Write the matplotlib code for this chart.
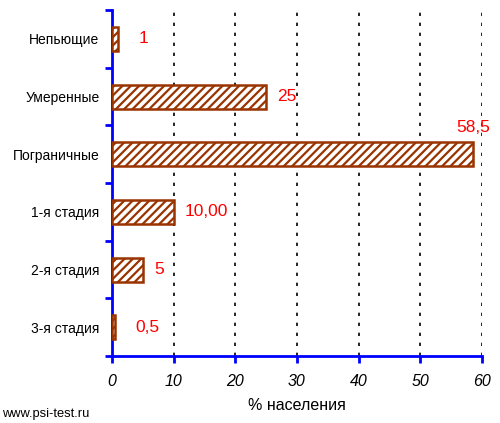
import matplotlib

matplotlib.use("Agg")
import matplotlib.pyplot as plt
import numpy as np

plt.rcParams["font.family"] = ["Liberation Sans", "DejaVu Sans"]
plt.rcParams["hatch.linewidth"] = 1.6
plt.rcParams["hatch.color"] = "#993300"

categories = ["Непьющие", "Умеренные", "Пограничные", "1-я стадия", "2-я стадия", "3-я стадия"]
values = [1, 25, 58.5, 10, 5, 0.5]
value_labels = ["1", "25", "58,5", "10,00", "5", "0,5"]
x_ticks = [0, 10, 20, 30, 40, 50, 60]

fig = plt.figure(figsize=(5, 4.23), dpi=100)
ax = fig.add_axes([0.224, 0.158, 0.74, 0.818])

y = np.arange(len(categories))
ax.barh(y, values, height=0.42, color="white", edgecolor="#993300",
        linewidth=1.8, hatch="////", zorder=3)

for i, (v, lab) in enumerate(zip(values, value_labels)):
    if v > 50:
        ax.text(v, i - 0.33, lab, color="red", fontsize=12.5, ha="center", va="bottom")
    elif v < 2:
        ax.text(v + 3.3, i, lab, color="red", fontsize=12.5, ha="left", va="center")
    else:
        ax.text(v + 1.8, i, lab, color="red", fontsize=12.5, ha="left", va="center")

ax.set_xlim(0, 60)
ax.set_ylim(len(categories) - 0.5, -0.5)
ax.set_xticks(x_ticks)
ax.set_xticklabels([str(t) for t in x_ticks], fontstyle="italic", fontsize=11.5)
ax.set_yticks(y)
ax.set_yticklabels(categories, fontsize=10)
ax.set_yticks(np.arange(-0.5, len(categories), 1), minor=True)

ax.tick_params(axis="y", which="major", length=0, pad=9)
ax.tick_params(axis="y", which="minor", length=5, width=2, color="blue", direction="out")
ax.tick_params(axis="x", length=5, width=2, color="blue", direction="out", pad=8)

ax.grid(axis="x", color="black", linestyle=(0, (2, 4)), linewidth=1.2, zorder=0)

for s in ["top", "right"]:
    ax.spines[s].set_visible(False)
for s in ["left", "bottom"]:
    ax.spines[s].set_color("blue")
    ax.spines[s].set_linewidth(2)

ax.set_xlabel("% населения", fontsize=11.5, labelpad=6)
fig.text(0.004, 0.008, "www.psi-test.ru", fontsize=9.3, ha="left", va="bottom")

plt.savefig("out.png", dpi=100)
plt.close(fig)
